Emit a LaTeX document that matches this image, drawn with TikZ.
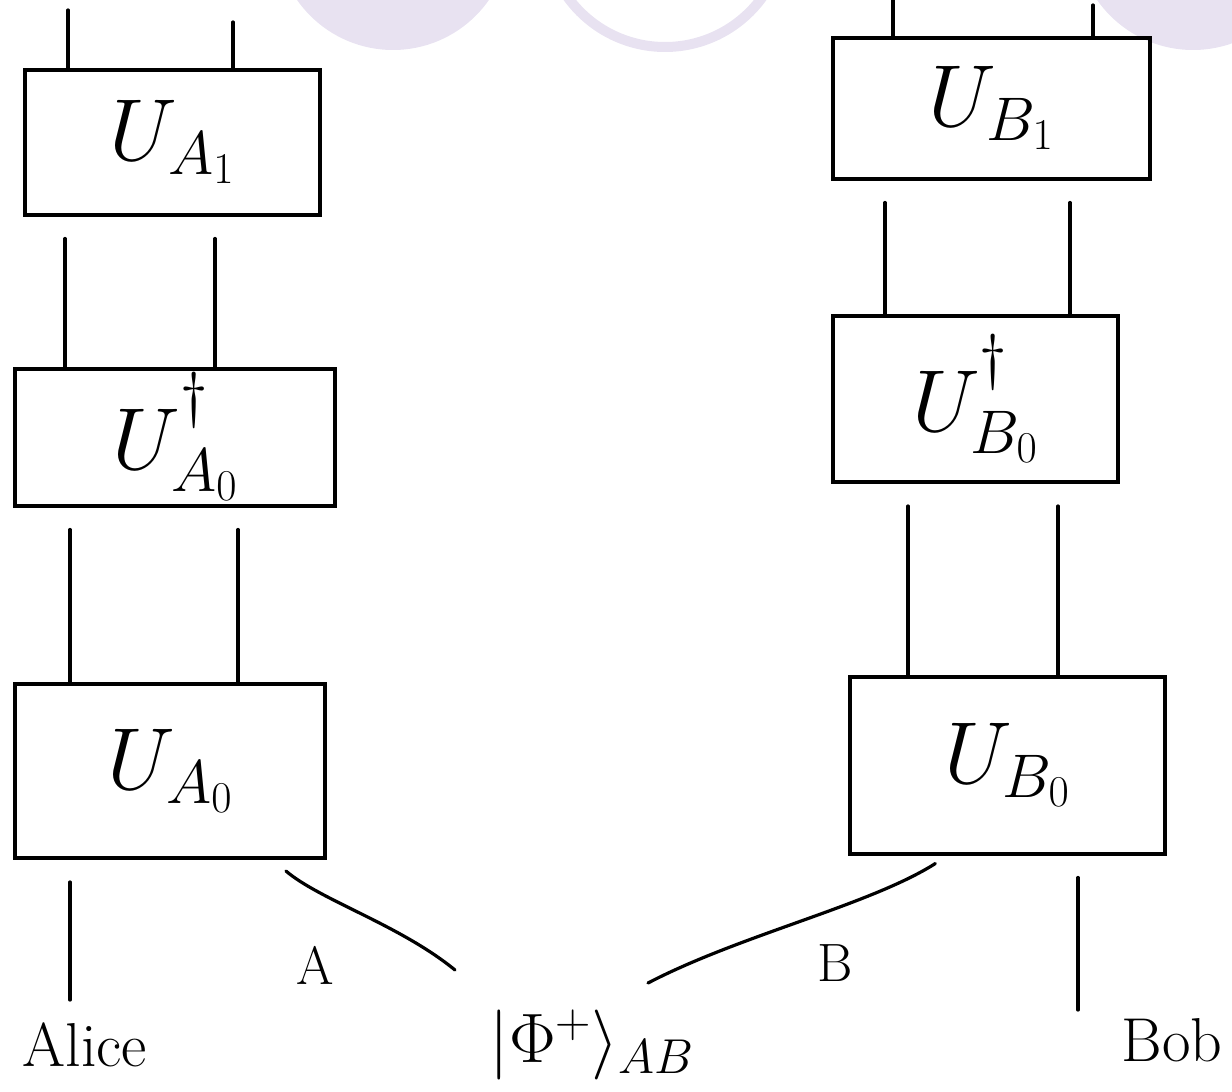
\documentclass[tikz,border=0pt]{standalone}
\usepackage{fix-cm}
\definecolor{lavender}{RGB}{232,226,241}
\newcommand{\dg}{\raisebox{0.25em}{$\scriptstyle\dagger$}}
\begin{document}
\begin{tikzpicture}[x=1pt, y=-1pt, line width=3.2pt, line cap=round,
        gate/.style={draw, line width=4pt, inner sep=0pt, font=\fontsize{88}{96}\selectfont},
        tag/.style={inner sep=0pt, font=\fontsize{62}{70}\selectfont},
        wiretag/.style={inner sep=0pt, font=\fontsize{54}{60}\selectfont}]
    \useasboundingbox (0,0) rectangle (1232,1092);
    \fill[lavender] (393,-67) circle (117pt);
    \fill[lavender] (1193,-67) circle (117pt);
    \draw[lavender, line width=10pt] (665,-73) circle (120pt);
    \node[gate, minimum width=295pt, minimum height=145pt] (ua1) at (172,142) {$U_{A_1}$};
    \node[gate, minimum width=320pt, minimum height=137pt] (uda0) at (175,437) {$U^{\dg}_{A_0}$};
    \node[gate, minimum width=310pt, minimum height=174pt] (ua0) at (170,771) {$U_{A_0}$};
    \node[gate, minimum width=317pt, minimum height=141pt] (ub1) at (991,108) {$U_{B_1}$};
    \node[gate, minimum width=285pt, minimum height=166pt] (udb0) at (975,399) {$U^{\dg}_{B_0}$};
    \node[gate, minimum width=315pt, minimum height=177pt] (ub0) at (1007,765) {$U_{B_0}$};
    \node[tag] (alice) at (85,1045) {Alice};
    \node[tag] (bob) at (1172,1040) {Bob};
    \node[font=\fontsize{70}{78}\selectfont, inner sep=0pt] (phi) at (592,1045) {$|\Phi^+\rangle_{AB}$};
    \node[wiretag] (a-tag) at (315,965) {A};
    \node[wiretag] (b-tag) at (835,963) {B};
    \foreach \x/\y [count=\i] in {68/10,233/22} \coordinate (a-in-\i) at (\x,\y);
    \foreach \x/\y [count=\i] in {893/0,1093/5} \coordinate (b-in-\i) at (\x,\y);
    \coordinate (alice-end) at (70,1000);
    \coordinate (bob-end) at (1078,1010);
    \coordinate (a-end) at (455,970);
    \coordinate (b-end) at (648,983);
    \foreach \i in {1,2} {
        \draw (a-in-\i) -- (a-in-\i |- ua1.north);
        \draw (b-in-\i) -- (b-in-\i |- ub1.north);
    }
    \foreach \up/\down/\x in {ua1/uda0/65, ua1/uda0/215, uda0/ua0/70, uda0/ua0/238,
            ub1/udb0/885, ub1/udb0/1070, udb0/ub0/908, udb0/ub0/1058}
        \draw[shorten <=22pt] (\up.south -| \x,0) -- (\down.north -| \x,0);
    \draw[shorten <=22pt] (ua0.south -| alice-end) -- (alice-end);
    \draw[shorten <=22pt] (ub0.south -| bob-end) -- (bob-end);
    \draw[shorten <=17pt] (ua0.south -| 273,0) .. controls (320,900) and (400,925) .. (a-end);
    \draw[shorten <=15pt] (ub0.south -| 948,0) .. controls (870,905) and (740,935) .. (b-end);
\end{tikzpicture}
\end{document}
